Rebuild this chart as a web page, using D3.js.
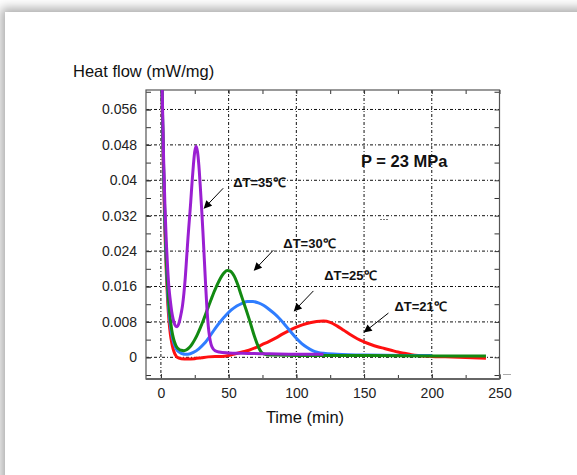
<!DOCTYPE html>
<html>
<head>
<meta charset="utf-8">
<script src="https://cdn.jsdelivr.net/npm/d3@7"></script>
<style>
  body { margin: 0; background: #fff; width: 577px; height: 475px; overflow: hidden; position: relative; }
  .card { position: absolute; left: 5px; top: 12px; width: 640px; height: 520px; background: #fff;
          box-shadow: 0 0 10px 4px rgba(0,0,0,0.33); }
  svg { position: absolute; left: 0; top: 0; font-family: "Liberation Sans", Arial, sans-serif; }
  .grid line { stroke: #111; stroke-width: 1; stroke-dasharray: 3,2,1,2; }
  .axis path { display: none; }
  .axis line { stroke: #333; }
  .axis text { font-size: 14px; fill: #222; }
</style>
</head>
<body>
<div class="card"></div>
<svg id="chart" width="577" height="475"></svg>
<script>
// ticks
const xTicks = [0, 50, 100, 150, 200, 250];
const xMinor = [0, 25, 50, 75, 100, 125, 150, 175, 200, 225, 250];
const yTicks = [0, 0.008, 0.016, 0.024, 0.032, 0.04, 0.048, 0.056];
const yMinor = [-0.004, 0, 0.004, 0.008, 0.012, 0.016, 0.020, 0.024, 0.028, 0.032, 0.036, 0.040, 0.044, 0.048, 0.052, 0.056, 0.060];

// ΔT=35℃ (purple)
const t35 = [0, 1, 2, 3, 4, 5, 6, 7, 8, 9, 10, 11, 12, 13, 14, 15, 16, 17, 18, 19, 20, 21, 22, 23, 24, 25, 26, 27, 28, 29, 30, 31, 32, 33, 34, 35, 36, 37, 38, 40, 43, 50, 60, 80, 100, 120];
const v35 = [0.075, 0.060, 0.045, 0.034, 0.026, 0.020, 0.0155, 0.0127, 0.0103, 0.0087, 0.0076, 0.0070, 0.0069, 0.0074, 0.0085, 0.0100, 0.0118, 0.0145, 0.0180, 0.0225, 0.0270, 0.0310, 0.0350, 0.0395, 0.0435, 0.0465, 0.0477, 0.0465, 0.0435, 0.0390, 0.0340, 0.0285, 0.0225, 0.0165, 0.0110, 0.0070, 0.0045, 0.0030, 0.0022, 0.0015, 0.0012, 0.0010, 0.0009, 0.0008, 0.0007, 0.0007];

// ΔT=30℃ (green)
const t30 = [0, 1, 2, 3, 4, 5, 6, 7, 8, 9, 10, 11, 12, 13, 14, 15, 17, 19, 21, 23, 25, 27, 29, 31, 33, 35, 37, 39, 41, 43, 45, 47, 49, 51, 53, 55, 57, 59, 61, 63, 65, 67, 69, 71, 73, 75, 78, 85, 100, 150, 200, 240];
const v30 = [0.075, 0.058, 0.043, 0.031, 0.022, 0.016, 0.0115, 0.0085, 0.0062, 0.0046, 0.0035, 0.0027, 0.0022, 0.0019, 0.0017, 0.0016, 0.0015, 0.0017, 0.0022, 0.0030, 0.0040, 0.0052, 0.0066, 0.0081, 0.0097, 0.0114, 0.0130, 0.0146, 0.0160, 0.0173, 0.0184, 0.0192, 0.0196, 0.0195, 0.0189, 0.0178, 0.0162, 0.0143, 0.0125, 0.0107, 0.0088, 0.0068, 0.0048, 0.0031, 0.0017, 0.0009, 0.0006, 0.0005, 0.0004, 0.0004, 0.0003, 0.0003];

// ΔT=25℃ (blue)
const t25 = [0, 1, 2, 3, 4, 5, 6, 7, 8, 9, 10, 11, 12, 13, 14, 16, 18, 20, 24, 28, 32, 36, 40, 44, 48, 52, 56, 60, 64, 68, 72, 76, 80, 84, 88, 92, 96, 100, 104, 108, 112, 116, 120, 130, 150, 180, 200];
const v25 = [0.075, 0.057, 0.042, 0.030, 0.021, 0.0145, 0.0100, 0.0072, 0.0052, 0.0038, 0.0028, 0.0021, 0.0016, 0.0013, 0.0011, 0.0008, 0.0007, 0.0007, 0.0011, 0.0019, 0.0031, 0.0047, 0.0065, 0.0081, 0.0095, 0.0107, 0.0116, 0.0122, 0.0126, 0.0126, 0.0123, 0.0117, 0.0108, 0.0098, 0.0086, 0.0072, 0.0057, 0.0043, 0.0031, 0.0022, 0.0015, 0.0011, 0.0009, 0.0007, 0.0005, 0.0004, 0.0004];

// ΔT=21℃ (red)
const t21 = [0, 1, 2, 3, 4, 5, 6, 7, 8, 9, 10, 11, 12, 15, 20, 25, 30, 35, 40, 45, 50, 55, 60, 65, 70, 75, 80, 85, 90, 95, 100, 105, 110, 115, 120, 125, 130, 135, 140, 145, 150, 155, 160, 165, 170, 175, 180, 185, 190, 200, 210, 220, 230, 240];
const v21 = [0.075, 0.056, 0.040, 0.028, 0.019, 0.0125, 0.0082, 0.0052, 0.0033, 0.0019, 0.0010, 0.0004, 0.0000, -0.0003, -0.0004, -0.0003, -0.0001, 0.0001, 0.0002, 0.0002, 0.0004, 0.0008, 0.0012, 0.0016, 0.0022, 0.0029, 0.0036, 0.0044, 0.0053, 0.0061, 0.0068, 0.0074, 0.0078, 0.0081, 0.0082, 0.0079, 0.0071, 0.0061, 0.0051, 0.0042, 0.0035, 0.0029, 0.0024, 0.0020, 0.0016, 0.0012, 0.0009, 0.0006, 0.0004, 0.0002, 0.0001, 0.0000, -0.0001, -0.0002];

// annotations: label, text position, arrow start, arrow tip (data units)
const annLabels = ["ΔT=35℃", "ΔT=30℃", "ΔT=25℃", "ΔT=21℃"];
const annText = [[53.4, 0.0384], [90.4, 0.0247], [120.6, 0.0175], [172.4, 0.0105]];
const annFrom = [[46.0, 0.0382], [83.0, 0.0242], [112.6, 0.0150], [168.0, 0.0100]];
const annTo = [[32.0, 0.0337], [69.0, 0.0197], [98.5, 0.0105], [150.2, 0.0057]];

const series = [
  { t: t21, v: v21, color: "#ff1010" },
  { t: t25, v: v25, color: "#2f7dff" },
  { t: t30, v: v30, color: "#128a12" },
  { t: t35, v: v35, color: "#9a1fd2" }
];

const pLeft = 146, pRight = 499.5, pTop = 90, pBottom = 379;

const x = d3.scaleLinear().domain([-11, 250]).range([pLeft, pRight]);
const y = d3.scaleLinear().domain([-0.0049, 0.0604]).range([pBottom, pTop]);

const svg = d3.select("#chart");

const defs = svg.append("defs");
defs.append("clipPath").attr("id", "clip")
  .append("rect").attr("x", pLeft).attr("y", pTop).attr("width", pRight - pLeft).attr("height", pBottom - pTop);

defs.append("marker")
  .attr("id", "arrow").attr("viewBox", "0 0 10 10")
  .attr("refX", 9).attr("refY", 5)
  .attr("markerWidth", 10).attr("markerHeight", 8)
  .attr("markerUnits", "userSpaceOnUse")
  .attr("orient", "auto")
  .append("path").attr("d", "M0,0 L10,5 L0,10 Z").attr("fill", "#000");

// grid
const grid = svg.append("g").attr("class", "grid");
grid.selectAll(".gx").data(xTicks.filter(d => d < 250)).enter().append("line")
  .attr("x1", d => x(d)).attr("x2", d => x(d)).attr("y1", pTop).attr("y2", pBottom);
grid.selectAll(".gy").data(yTicks).enter().append("line")
  .attr("y1", d => y(d)).attr("y2", d => y(d)).attr("x1", pLeft).attr("x2", pRight);

// axes (ticks pointing inward)
svg.append("g").attr("class", "axis").attr("transform", `translate(0,${pBottom})`)
  .call(d3.axisBottom(x).tickValues(xMinor).tickSize(-4).tickFormat(""));
svg.append("g").attr("class", "axis").attr("transform", `translate(0,${pBottom})`)
  .call(d3.axisBottom(x).tickValues(xTicks).tickSize(-5).tickPadding(9));
svg.append("g").attr("class", "axis").attr("transform", `translate(0,${pTop})`)
  .call(d3.axisTop(x).tickValues(xMinor).tickSize(-4).tickFormat(""));
svg.append("g").attr("class", "axis").attr("transform", `translate(${pLeft},0)`)
  .call(d3.axisLeft(y).tickValues(yMinor).tickSize(-5).tickFormat(""));
svg.append("g").attr("class", "axis").attr("transform", `translate(${pLeft},0)`)
  .call(d3.axisLeft(y).tickValues(yTicks).tickSize(-5).tickPadding(9).tickFormat(d => String(+d.toFixed(3))));
svg.append("g").attr("class", "axis").attr("transform", `translate(${pRight},0)`)
  .call(d3.axisRight(y).tickValues(yMinor).tickSize(-5).tickFormat(""));

// frame
svg.append("rect").attr("x", pLeft).attr("y", pTop).attr("width", pRight - pLeft).attr("height", pBottom - pTop)
  .attr("fill", "none").attr("stroke", "#555").attr("stroke-width", 1.2);
svg.append("line").attr("x1", pLeft).attr("x2", pRight).attr("y1", pBottom).attr("y2", pBottom)
  .attr("stroke", "#666").attr("stroke-width", 1.8);

// curves
const line = d3.line().x(d => x(d[0])).y(d => y(d[1])).curve(d3.curveMonotoneX);
svg.append("g").attr("clip-path", "url(#clip)")
  .selectAll("path").data(series).enter().append("path")
  .attr("d", s => line(s.t.map((t, i) => [t, s.v[i]])))
  .attr("fill", "none").attr("stroke", s => s.color)
  .attr("stroke-width", 3).attr("stroke-linejoin", "round");

// annotations
const ann = svg.append("g");
ann.selectAll("line").data(annLabels).enter().append("line")
  .attr("x1", (d, i) => x(annFrom[i][0])).attr("y1", (d, i) => y(annFrom[i][1]))
  .attr("x2", (d, i) => x(annTo[i][0])).attr("y2", (d, i) => y(annTo[i][1]))
  .attr("stroke", "#000").attr("stroke-width", 1).attr("marker-end", "url(#arrow)");
ann.selectAll("text").data(annLabels).enter().append("text")
  .attr("x", (d, i) => x(annText[i][0])).attr("y", (d, i) => y(annText[i][1]))
  .attr("font-size", 13).attr("font-weight", "bold").attr("fill", "#111")
  .text(d => d);

svg.append("text").attr("x", x(147.8)).attr("y", y(0.043))
  .attr("font-size", 16.5).attr("font-weight", "bold").attr("fill", "#111")
  .text("P = 23 MPa");

// small stray marks
svg.append("line").attr("x1", 380).attr("x2", 388).attr("y1", 219.5).attr("y2", 219.5)
  .attr("stroke", "#777").attr("stroke-dasharray", "2,1");
svg.append("line").attr("x1", 503).attr("x2", 511).attr("y1", 374.5).attr("y2", 374.5)
  .attr("stroke", "#aaa");

// axis titles
svg.append("text").attr("x", 73).attr("y", 77).attr("font-size", 16.5).attr("fill", "#111")
  .text("Heat flow (mW/mg)");
svg.append("text").attr("x", 305).attr("y", 423).attr("text-anchor", "middle")
  .attr("font-size", 16.5).attr("fill", "#111").text("Time (min)");
</script>
</body>
</html>
